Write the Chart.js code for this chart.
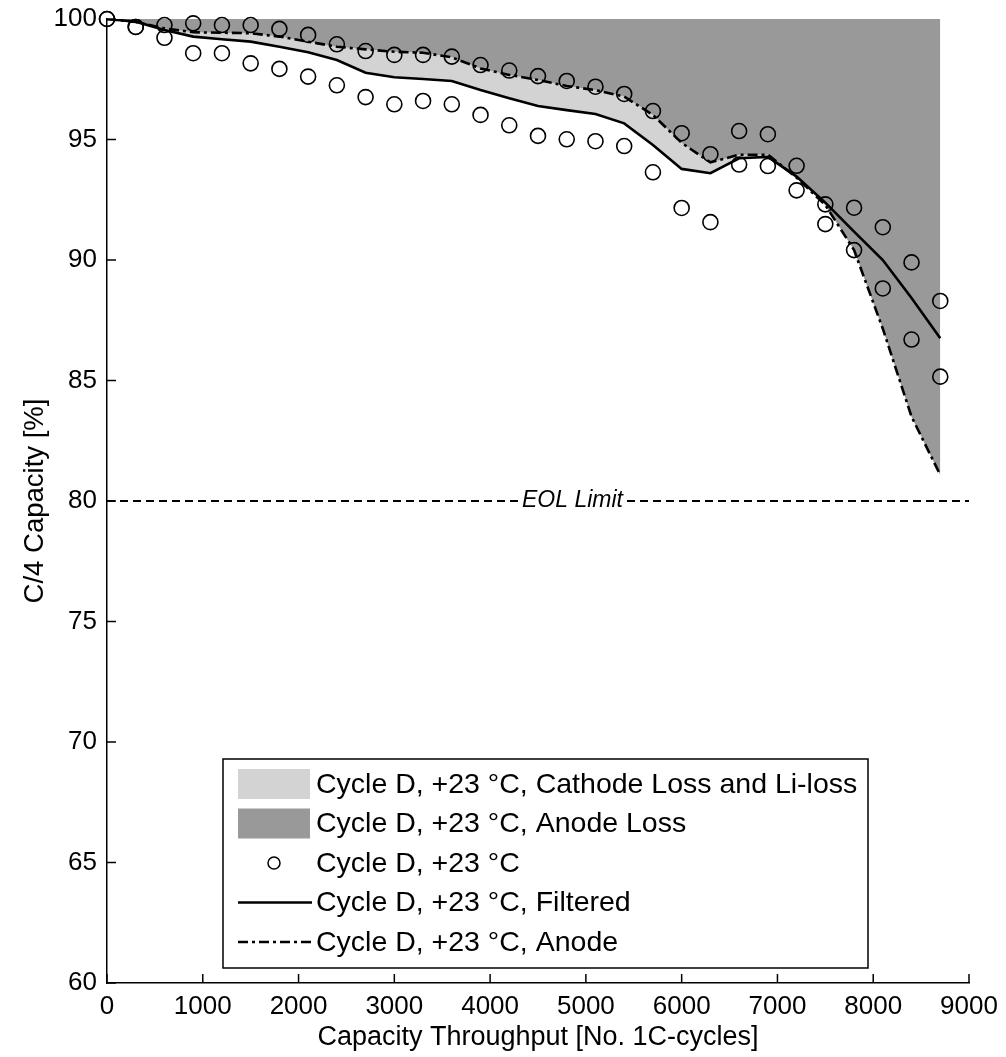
<!DOCTYPE html>
<html>
<head>
<meta charset="utf-8">
<script src="https://cdn.jsdelivr.net/npm/chart.js@4.4.1/dist/chart.umd.min.js"></script>
<style>
  html, body { margin: 0; padding: 0; background: #fff; }
  canvas { display: block; }
</style>
</head>
<body>
<canvas id="chartCapacity" width="1006" height="1057"></canvas>
<script>
// capacity throughput [No. 1C-cycles]
const cycles = [0, 300, 600, 900, 1200, 1500, 1800, 2100, 2400, 2700, 3000, 3300, 3600, 3900, 4200,
    4500, 4800, 5100, 5400, 5700, 6000, 6300, 6600, 6900, 7200, 7500, 7800, 8100, 8400, 8700];

// C/4 capacity [%], two measured cells
const capUpper = [100, 99.67, 99.75, 99.82, 99.75, 99.75, 99.59, 99.34, 98.95, 98.67, 98.51, 98.51, 98.44, 98.09, 97.86,
    97.63, 97.43, 97.19, 96.89, 96.18, 95.26, 94.39, 95.35, 95.22, 93.91, 92.31, 92.17, 91.36, 89.90, 88.30];
const capLower = [100, 99.67, 99.22, 98.58, 98.58, 98.16, 97.93, 97.61, 97.25, 96.76, 96.46, 96.60, 96.46, 96.02, 95.59,
    95.15, 95.01, 94.93, 94.73, 93.64, 92.16, 91.57, 93.96, 93.90, 92.89, 91.49, 90.41, 88.82, 86.70, 85.16];

const capFiltered = [100, 99.89, 99.54, 99.27, 99.16, 99.06, 98.85, 98.62, 98.30, 97.77, 97.58, 97.51, 97.43, 97.05, 96.71,
    96.39, 96.22, 96.06, 95.67, 94.77, 93.78, 93.60, 94.22, 94.28, 93.46, 92.38, 91.18, 90.00, 88.42, 86.75];
const capAnode = [100, 99.88, 99.61, 99.45, 99.43, 99.41, 99.27, 99.06, 98.85, 98.74, 98.64, 98.60, 98.41, 97.95, 97.68,
    97.47, 97.22, 97.05, 96.78, 96.02, 94.86, 94.05, 94.37, 94.37, 93.42, 92.28, 90.41, 87.15, 83.50, 81.08];

const xTicks = [0, 1000, 2000, 3000, 4000, 5000, 6000, 7000, 8000, 9000];
const yTicks = [60, 65, 70, 75, 80, 85, 90, 95, 100];

const eolLimit = 80;
const eolRange = [0, 9000];
const eolLabelAt = 4860;

const legendLabels = [
    'Cycle D, +23 °C, Cathode Loss and Li-loss',
    'Cycle D, +23 °C, Anode Loss',
    'Cycle D, +23 °C',
    'Cycle D, +23 °C, Filtered',
    'Cycle D, +23 °C, Anode'
];

const FONT = '"Liberation Sans", Arial, sans-serif';
const LIGHT = '#d3d3d3';
const DARK = '#999999';
const DASHDOT = [10, 4, 3, 4];

function toPoints(xs, ys) {
    return xs.map((x, i) => ({ x: x, y: ys[i] }));
}

function line(ctx, x1, y1, x2, y2) {
    ctx.beginPath();
    ctx.moveTo(x1, y1);
    ctx.lineTo(x2, y2);
    ctx.stroke();
}

// inside ticks, EOL label and the boxed legend
const decorPlugin = {
    id: 'decor',
    afterDraw(chart) {
        const ctx = chart.ctx;
        const area = chart.chartArea;
        const xs = chart.scales.x;
        const ys = chart.scales.y;

        ctx.save();
        ctx.strokeStyle = '#000';
        ctx.lineWidth = 1.5;
        xTicks.forEach(v => {
            const px = xs.getPixelForValue(v);
            line(ctx, px, area.bottom, px, area.bottom - 9);
        });
        yTicks.forEach(v => {
            const py = ys.getPixelForValue(v);
            line(ctx, area.left, py, area.left + 9, py);
        });

        // EOL label sits on the dashed line
        ctx.font = 'italic 23px ' + FONT;
        const tx = xs.getPixelForValue(eolLabelAt);
        const ty = ys.getPixelForValue(eolLimit);
        const tw = ctx.measureText('EOL Limit').width;
        ctx.fillStyle = '#fff';
        ctx.fillRect(tx - tw / 2 - 2, ty - 12, tw + 4, 24);
        ctx.fillStyle = '#000';
        ctx.textAlign = 'center';
        ctx.textBaseline = 'middle';
        ctx.fillText('EOL Limit', tx, ty);

        // legend
        const bx = area.left + 116, by = area.top + 740, bw = 645, bh = 209;
        ctx.fillStyle = '#fff';
        ctx.fillRect(bx, by, bw, bh);
        ctx.lineWidth = 1.5;
        ctx.strokeRect(bx, by, bw, bh);

        const sx = bx + 15, sw = 72;
        ctx.font = '28.5px ' + FONT;
        ctx.textAlign = 'left';
        ctx.textBaseline = 'middle';
        legendLabels.forEach((label, i) => {
            const ry = by + 25 + i * 39.5;
            if (i === 0 || i === 1) {
                ctx.fillStyle = i === 0 ? LIGHT : DARK;
                ctx.fillRect(sx, ry - 15, sw, 30);
            } else if (i === 2) {
                ctx.lineWidth = 1.5;
                ctx.beginPath();
                ctx.arc(sx + sw / 2, ry, 6, 0, Math.PI * 2);
                ctx.stroke();
            } else {
                ctx.lineWidth = 2.5;
                ctx.setLineDash(i === 4 ? DASHDOT : []);
                line(ctx, sx, ry, sx + sw + 2, ry);
                ctx.setLineDash([]);
            }
            ctx.fillStyle = '#000';
            ctx.fillText(label, sx + sw + 6, ry + 1);
        });
        ctx.restore();
    }
};

function initCapacityChart(canvasId) {
    const ctx = document.getElementById(canvasId).getContext('2d');

    new Chart(ctx, {
        type: 'scatter',
        data: {
            datasets: [
                {
                    // anode loss: between anode curve and 100 %
                    label: legendLabels[1],
                    data: toPoints(cycles, capAnode),
                    showLine: true,
                    borderWidth: 0,
                    pointRadius: 0,
                    backgroundColor: DARK,
                    fill: { value: 100 }
                },
                {
                    // cathode and Li loss: between filtered and anode curve
                    label: legendLabels[0],
                    data: toPoints(cycles, capFiltered),
                    showLine: true,
                    borderWidth: 0,
                    pointRadius: 0,
                    backgroundColor: LIGHT,
                    fill: 0
                },
                {
                    label: legendLabels[2],
                    data: toPoints(cycles, capUpper).concat(toPoints(cycles, capLower)),
                    showLine: false,
                    pointStyle: 'circle',
                    pointRadius: 7.5,
                    pointBorderWidth: 1.6,
                    pointBorderColor: '#000',
                    pointBackgroundColor: 'rgba(0,0,0,0)',
                    clip: false
                },
                {
                    label: legendLabels[3],
                    data: toPoints(cycles, capFiltered),
                    showLine: true,
                    borderColor: '#000',
                    borderWidth: 2.6,
                    pointRadius: 0,
                    fill: false
                },
                {
                    label: legendLabels[4],
                    data: toPoints(cycles, capAnode),
                    showLine: true,
                    borderColor: '#000',
                    borderWidth: 2.6,
                    borderDash: DASHDOT,
                    pointRadius: 0,
                    fill: false
                },
                {
                    label: 'EOL Limit',
                    data: toPoints(eolRange, [eolLimit, eolLimit]),
                    showLine: true,
                    borderColor: '#000',
                    borderWidth: 2.2,
                    borderDash: [8, 5],
                    pointRadius: 0,
                    fill: false
                }
            ]
        },
        options: {
            responsive: false,
            animation: false,
            events: [],
            layout: {
                padding: { top: 19, right: 37, left: 0, bottom: 0 }
            },
            plugins: {
                legend: { display: false },
                tooltip: { enabled: false },
                filler: { drawTime: 'beforeDatasetsDraw' }
            },
            scales: {
                x: {
                    type: 'linear',
                    min: 0,
                    max: 9000,
                    afterBuildTicks: scale => { scale.ticks = xTicks.map(v => ({ value: v })); },
                    afterFit: scale => {
                        scale.height = 74;
                        scale.paddingLeft = 0;
                        scale.paddingRight = 0;
                    },
                    grid: { display: false, drawTicks: false },
                    border: { display: true, color: '#000', width: 1.5 },
                    ticks: {
                        autoSkip: false,
                        maxRotation: 0,
                        padding: 8,
                        color: '#000',
                        font: { family: FONT, size: 26 },
                        callback: v => String(v)
                    },
                    title: {
                        display: true,
                        text: 'Capacity Throughput [No. 1C-cycles]',
                        color: '#000',
                        padding: { top: 0, bottom: 3 },
                        font: { family: FONT, size: 27 }
                    }
                },
                y: {
                    min: 60,
                    max: 100,
                    afterBuildTicks: scale => { scale.ticks = yTicks.map(v => ({ value: v })); },
                    afterFit: scale => {
                        scale.width = 107;
                        scale.paddingTop = 0;
                        scale.paddingBottom = 0;
                    },
                    grid: { display: false, drawTicks: false },
                    border: { display: true, color: '#000', width: 1.5 },
                    ticks: {
                        autoSkip: false,
                        padding: 10,
                        color: '#000',
                        font: { family: FONT, size: 26 },
                        callback: v => String(v)
                    },
                    title: {
                        display: true,
                        text: 'C/4 Capacity [%]',
                        color: '#000',
                        padding: { top: 19, bottom: 0 },
                        font: { family: FONT, size: 27.5 }
                    }
                }
            }
        },
        plugins: [decorPlugin]
    });
}

document.addEventListener('DOMContentLoaded', function () {
    initCapacityChart('chartCapacity');
});
</script>
</body>
</html>
